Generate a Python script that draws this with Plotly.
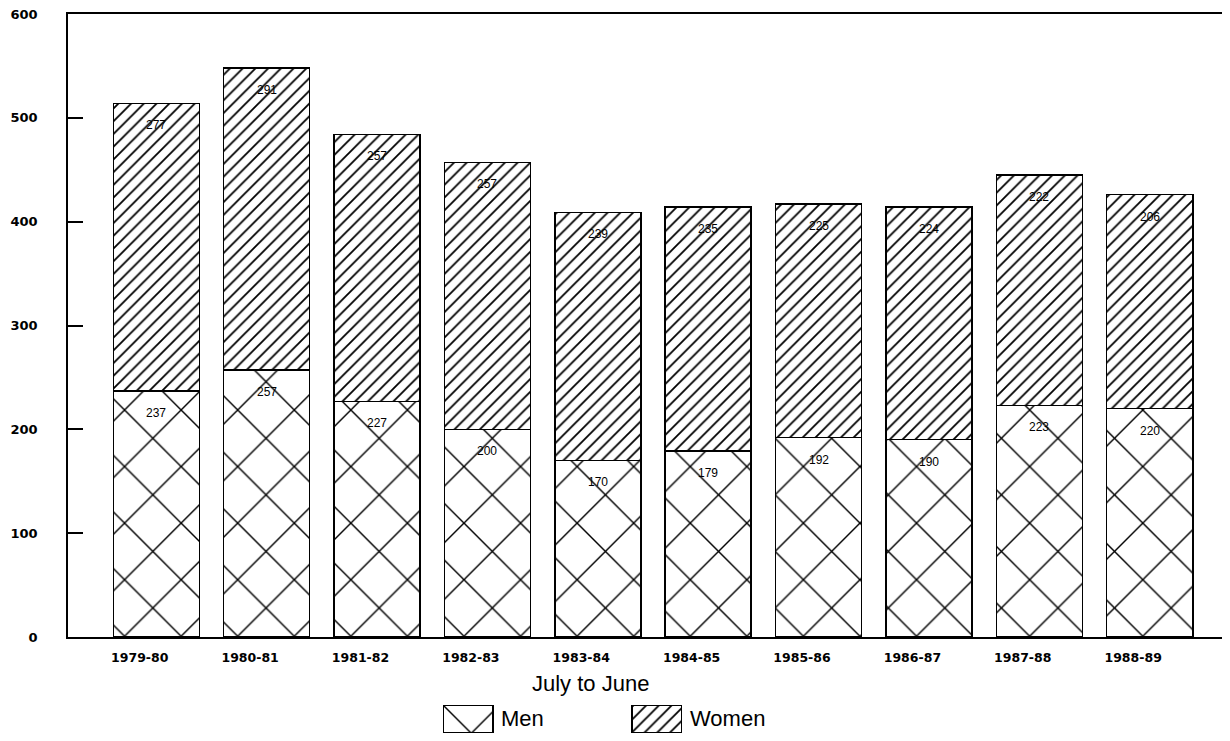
import plotly.graph_objects as go

years = ["1979-80", "1980-81", "1981-82", "1982-83", "1983-84",
         "1984-85", "1985-86", "1986-87", "1987-88", "1988-89"]
men = [237, 257, 227, 200, 170, 179, 192, 190, 223, 220]
women = [277, 291, 257, 257, 239, 235, 225, 224, 222, 206]
y_ticks = [0, 100, 200, 300, 400, 500, 600]
series_names = ["Men", "Women"]

xpos = list(range(len(years)))
font_family = "Liberation Sans, Arial, sans-serif"
tick_family = "DejaVu Sans, sans-serif"

men_pattern = dict(shape="x", size=40, solidity=0.07, fgcolor="black",
                   bgcolor="white", fgopacity=1)
women_pattern = dict(shape="/", size=9, solidity=0.2, fgcolor="black",
                     bgcolor="white", fgopacity=1)
bar_line = dict(color="black", width=1.5)

fig = go.Figure()
fig.add_trace(go.Bar(
    x=xpos, y=men, name=series_names[0], width=0.78, showlegend=False,
    marker=dict(color="white", line=bar_line, pattern=men_pattern),
))
fig.add_trace(go.Bar(
    x=xpos, y=women, name=series_names[1], width=0.78, showlegend=False,
    marker=dict(color="white", line=bar_line, pattern=women_pattern),
))

# value labels
for i in xpos:
    fig.add_annotation(x=i, y=men[i], text=str(men[i]), showarrow=False,
                       yshift=-22,
                       font=dict(size=12, color="black", family=font_family))
    fig.add_annotation(x=i, y=men[i] + women[i], text=str(women[i]), showarrow=False,
                       yshift=-22,
                       font=dict(size=12, color="black", family=font_family))

# legend swatches drawn on an auxiliary axis below the plot
fig.add_trace(go.Bar(
    x=[0], y=[1], width=0.2646, xaxis="x2", yaxis="y2", showlegend=False,
    hoverinfo="skip", name=series_names[0],
    marker=dict(color="white", line=bar_line, pattern=men_pattern),
))
fig.add_trace(go.Bar(
    x=[1], y=[1], width=0.2646, xaxis="x2", yaxis="y2", showlegend=False,
    hoverinfo="skip", name=series_names[1],
    marker=dict(color="white", line=bar_line, pattern=women_pattern),
))
for k, nm in enumerate(series_names):
    fig.add_annotation(x=k + 0.1323, y=0.5, xref="x2", yref="y2", text=nm,
                       showarrow=False, xanchor="left", xshift=6, yanchor="middle",
                       font=dict(size=22, color="black", family=font_family))

# axis title
fig.add_annotation(x=0.447, y=0.0759, xref="paper", yref="paper",
                   text="July to June", showarrow=False,
                   xanchor="center", yanchor="middle",
                   font=dict(size=22, color="black", family=font_family))

fig.update_layout(
    barmode="stack",
    width=1230, height=741,
    margin=dict(l=60, r=0, t=6, b=10, autoexpand=False),
    paper_bgcolor="white", plot_bgcolor="white",
    font=dict(family=font_family, color="black"),
    showlegend=False,
    xaxis=dict(
        range=[-0.8, 9.8], tickvals=[v - 0.15 for v in xpos], ticktext=years,
        showline=True, linecolor="black", linewidth=1.5, mirror=True,
        ticks="", showgrid=False, zeroline=False, automargin=False,
        tickfont=dict(size=12.5, family=tick_family, weight="bold"),
        ticklabelstandoff=8, anchor="y",
    ),
    yaxis=dict(
        domain=[0.1407, 1],
        range=[0, 600], tickvals=y_ticks,
        showline=True, linecolor="black", linewidth=1.5,
        ticks="inside", ticklen=15, tickcolor="black", tickwidth=1.5,
        showgrid=False, zeroline=False, automargin=False,
        tickfont=dict(size=13, family=tick_family, weight="bold"),
        ticklabelstandoff=26, ticklabeloverflow="allow",
    ),
    xaxis2=dict(domain=[0.3205, 0.5248], range=[-0.1323, 1.1323], anchor="y2",
                visible=False, fixedrange=True),
    yaxis2=dict(domain=[0.00828, 0.0469], range=[0, 1], anchor="x2",
                visible=False, fixedrange=True),
)

fig.write_html("out.html")
